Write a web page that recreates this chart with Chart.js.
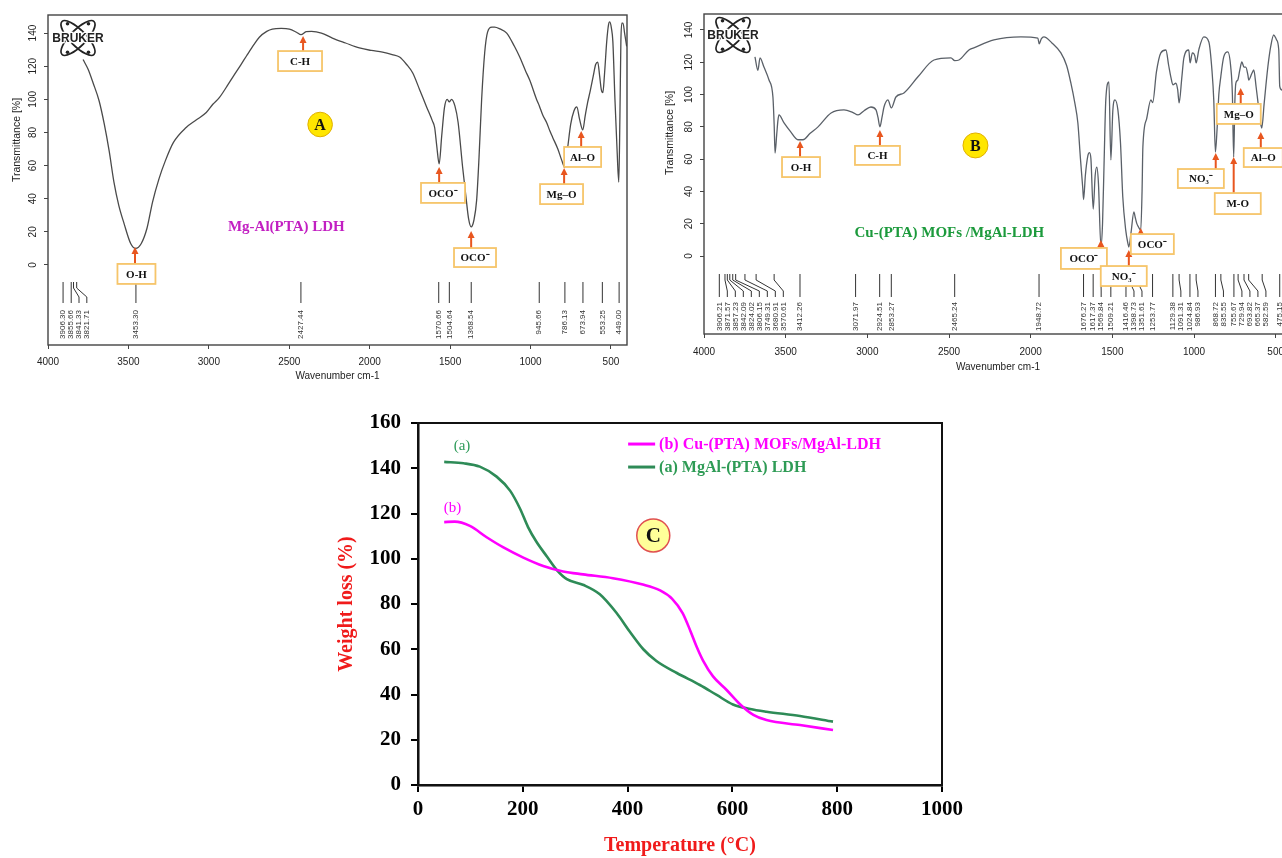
<!DOCTYPE html>
<html><head><meta charset="utf-8">
<script src="https://cdn.jsdelivr.net/npm/chart.js@4.4.1/dist/chart.umd.min.js"></script>
<style>
html,body{margin:0;padding:0;background:#fff;overflow:hidden;width:1282px;height:858px;position:relative;}
canvas{position:absolute;}
</style></head><body>
<canvas id="chartA" width="645" height="385" style="left:0;top:0"></canvas>
<canvas id="chartB" width="645" height="375" style="left:660px;top:0"></canvas>
<canvas id="chartC" width="650" height="463" style="left:330px;top:395px"></canvas>
<script>
// ---------- tick labels ----------
const ftirXTicks = [4000, 3500, 3000, 2500, 2000, 1500, 1000, 500];
const ftirYTicks = [0, 20, 40, 60, 80, 100, 120, 140];
const tgaXTicks = [0, 200, 400, 600, 800, 1000];
const tgaYTicks = [0, 20, 40, 60, 80, 100, 120, 140, 160];

// ---------- (A) Mg-Al(PTA) LDH FTIR ----------
const ldhWavenumber = [3782,3750,3720,3682,3650,3620,3590,3560,3527,3486,3455,3420,3385,3350,3310,3270,3220,3141,3079,3016,2975,2935,2880,2854,2800,2767,2720,2686,2640,2605,2550,2499,2455,2427,2395,2362,2300,2232,2150,2064,1990,1920,1860,1814,1770,1733,1690,1646,1610,1596,1583,1568,1552,1535,1518,1505,1491,1470,1450,1422,1400,1385,1369,1352,1335,1320,1304,1285,1267,1240,1223,1190,1148,1100,1067,1030,1005,961,945,924,900,880,862,830,805,787,770,750,730,712,695,675,660,645,631,610,595,582,570,560,550,540,526,515,507,497,488,475,462,451,444,438,432,425,415,402];
const ldhTransmittance = [124,118,110,99,85,69,50,36,25,13,10,13,22,38,52,63,74,83,87.5,92,97,101,109,113,121,126,133,137.5,141,142.4,142.8,142.4,140.5,139,140.8,141,140,137,134,131,129.5,128.5,127,125.5,121,116,106,95.4,87,83,72,61,78,95,100,98.5,100,96,86,59,40,28,23,27,39,65,99.6,128,140.6,143.6,143.6,142.5,140,132,125.5,117,111.6,99.6,96,90.5,86,81,77,70,63,59,70,85,93,95.4,88,81.5,90,98,104,114,121,122.5,114,106,104,115,135,145,146.7,143,135,100,70,50,90,135,146,146,140,132];
const ldhPeaks = [3906.30,3855.66,3841.33,3821.71,3453.30,2427.44,1570.66,1504.64,1368.54,945.66,786.13,673.94,553.25,449.00];

// ---------- (B) Cu-(PTA) MOFs/MgAl-LDH FTIR ----------
const mofWavenumber = [3688,3670,3657,3633,3602,3578,3570,3565,3555,3547,3541,3510,3470,3425,3394,3350,3302,3222,3143,3090,3057,3020,2978,2947,2935,2923,2910,2898,2874,2853,2825,2776,2690,2592,2488,2465,2439,2378,2348,2225,2060,1956,1948,1935,1919,1870,1815,1780,1754,1730,1711,1695,1681,1676,1665,1650,1640,1631,1617,1605,1595,1585,1570,1560,1550,1540,1521,1509,1497,1484,1466,1450,1436,1418,1405,1399,1385,1368,1360,1351,1340,1326,1318,1313,1290,1264,1253,1230,1203,1172,1155,1142,1129,1111,1100,1091,1075,1062,1032,1024,1010,995,987,970,940,909,890,879,869,858,848,836,818,793,775,765,757,750,744,732,720,707,694,683,670,665,646,634,620,610,595,585,570,548,530,512,495,481,475,463,455,440,420,405];
const mofTransmittance = [123.3,115,122.7,117,109,98.5,80,63.8,75,84.3,87.4,82.4,77,72,72,76,80,88.6,90.5,89,87.4,90,92.3,90.5,86,80,86,92.3,96.7,91.7,98.5,101,111,121.4,122.7,121,121.4,127.6,128.9,133.8,135.7,135,131.4,134.5,135.7,132,125.8,118,107.2,95,82.4,60,42,35,50,62,64,60,29,50,55,45,6,20,60,96.7,107.8,59.5,90,96.7,90.5,70,36.5,16,8,5.6,15,27.3,24,20.4,18,16,40,67.5,85,96.7,95,114,125.8,127.6,118,111,106,107,103,94.8,110,122.7,127.6,119.6,125.8,124,119.6,128,135.7,132.6,115,96.7,64.4,80,100,111,123.3,126.4,117,100,61.3,95,107,109,115,120.2,117,117,112,109,113,115.2,105,96.7,84,79.3,95,117,130,136.9,134,127.6,105,102.8,105,110,115,118];
const mofPeaks = [3906.21,3871.57,3857.23,3842.09,3824.02,3806.15,3749.31,3680.91,3570.61,3412.26,3071.97,2924.51,2853.27,2465.24,1948.72,1676.27,1617.37,1569.84,1509.21,1416.46,1398.73,1351.61,1253.77,1129.38,1091.31,1024.84,986.93,868.72,835.55,755.67,729.94,693.82,665.37,582.59,475.15];

// ---------- (C) TGA ----------
const tgaTempMOF = [50,70,99,131,163,201,239,277,315,372,429,462,485,505,520,532,544,563,589,615,640,665,729,792];
const tgaWeightMOF = [116.2,116.4,114.5,109.5,105,100.5,96.8,94.4,93.1,91.4,88.6,86,82.3,76,68,61,55,48,42,35.6,31,28.7,26.5,24.3];
const tgaTempLDH = [50,87,118,150,176,195,210,226,246,265,284,316,347,379,405,430,455,494,538,570,601,634,665,729,792];
const tgaWeightLDH = [142.8,142.2,140.7,136.3,130,122,114,107.5,101,95,91,88.4,84.3,76,67.5,60,54.8,49.5,44.2,39.8,35.6,33.6,32.4,30.5,28];

// ---------- helpers ----------
const SANS = '"Liberation Sans", Arial, sans-serif';
const SERIF = '"Liberation Serif", "Times New Roman", serif';
const toXY = (xs, ys) => xs.map((x, i) => ({x: x, y: ys[i]}));

const deco = {
  id: 'deco',
  afterDatasetsDraw(chart, args, o) {
    const ctx = chart.ctx, ca = chart.chartArea, sx = chart.scales.x, sy = chart.scales.y;
    ctx.save();
    if (o.peaks) {
      const P = o.peaks;
      const xs = P.values.map(v => sx.getPixelForValue(v));
      const pos = xs.slice();
      for (let i = 1; i < pos.length; i++) pos[i] = Math.max(pos[i], pos[i - 1] + P.gap);
      const b = ca.bottom, y0 = b - P.top, y1 = y0 + P.bend, y3 = b - P.bottom, y2 = y3 - P.bend;
      ctx.strokeStyle = P.color; ctx.lineWidth = 1; ctx.fillStyle = P.color;
      ctx.font = P.font; ctx.textAlign = 'right'; ctx.textBaseline = 'middle';
      xs.forEach((x, i) => {
        ctx.beginPath(); ctx.moveTo(x, y0); ctx.lineTo(x, y1); ctx.lineTo(pos[i], y2); ctx.lineTo(pos[i], y3); ctx.stroke();
        ctx.save(); ctx.translate(pos[i], b - P.label); ctx.rotate(-Math.PI / 2);
        ctx.fillText(P.values[i].toFixed(2), 0, 0); ctx.restore();
      });
    }
    if (o.frame) {
      ctx.strokeStyle = o.frame.color; ctx.lineWidth = o.frame.width;
      ctx.strokeRect(ca.left, ca.top, ca.right - ca.left, ca.bottom - ca.top);
    }
    if (o.logo) {
      const cx = ca.left + o.logo.dx, cy = ca.top + o.logo.dy;
      ctx.save(); ctx.translate(cx, cy);
      ctx.strokeStyle = '#222'; ctx.lineWidth = 1.7;
      [0.8, -0.8].forEach(a => { ctx.beginPath(); ctx.ellipse(0, 0, 23, 8, a, 0, Math.PI * 2); ctx.stroke(); });
      ctx.fillStyle = '#222';
      [[-11,-15],[11,15],[-11,15],[11,-15]].forEach(p => { ctx.beginPath(); ctx.arc(p[0]*0.95, p[1]*0.95, 1.8, 0, Math.PI*2); ctx.fill(); });
      ctx.font = 'bold 12px ' + SANS; ctx.textAlign = 'center'; ctx.textBaseline = 'middle';
      ctx.lineWidth = 2.5; ctx.strokeStyle = '#fff'; ctx.strokeText('BRUKER', 0, 1);
      ctx.fillText('BRUKER', 0, 1);
      ctx.restore();
    }
    (o.boxes || []).forEach(bx => {
      const cx = sx.getPixelForValue(bx.at[0]), cy = sy.getPixelForValue(bx.at[1]);
      const ax = sx.getPixelForValue(bx.tip[0]), ay = sy.getPixelForValue(bx.tip[1]);
      const top = cy - bx.h / 2;
      ctx.strokeStyle = '#E8561F'; ctx.fillStyle = '#E8561F'; ctx.lineWidth = 2;
      ctx.beginPath(); ctx.moveTo(ax, top); ctx.lineTo(ax, ay + 5); ctx.stroke();
      ctx.beginPath(); ctx.moveTo(ax, ay); ctx.lineTo(ax - 3.5, ay + 7); ctx.lineTo(ax + 3.5, ay + 7); ctx.closePath(); ctx.fill();
      ctx.fillStyle = '#fff'; ctx.fillRect(cx - bx.w / 2, top, bx.w, bx.h);
      ctx.strokeStyle = '#F6C56A'; ctx.lineWidth = 1.8; ctx.strokeRect(cx - bx.w / 2, top, bx.w, bx.h);
      ctx.fillStyle = '#111'; ctx.font = 'bold 11px ' + SERIF; ctx.textAlign = 'center'; ctx.textBaseline = 'middle';
      ctx.fillText(bx.text, cx, cy + 1);
    });
    (o.circles || []).forEach(c => {
      const cx = sx.getPixelForValue(c.at[0]), cy = sy.getPixelForValue(c.at[1]);
      ctx.beginPath(); ctx.arc(cx, cy, c.r, 0, Math.PI * 2);
      ctx.fillStyle = c.fill; ctx.fill();
      ctx.strokeStyle = c.stroke; ctx.lineWidth = c.lw; ctx.stroke();
      ctx.fillStyle = '#111'; ctx.font = c.font; ctx.textAlign = 'center'; ctx.textBaseline = 'middle';
      ctx.fillText(c.text, cx, cy + 1);
    });
    (o.texts || []).forEach(t => {
      ctx.fillStyle = t.color; ctx.font = t.font; ctx.textAlign = 'center'; ctx.textBaseline = 'middle';
      ctx.fillText(t.text, sx.getPixelForValue(t.at[0]), sy.getPixelForValue(t.at[1]));
    });
    if (o.legend) {
      const L = o.legend;
      const lx = sx.getPixelForValue(L.at[0]), ly = sy.getPixelForValue(L.at[1]);
      L.order.forEach((di, k) => {
        const ds = chart.data.datasets[di];
        const y = ly + k * L.step;
        ctx.strokeStyle = ds.borderColor; ctx.lineWidth = 3;
        ctx.beginPath(); ctx.moveTo(lx, y); ctx.lineTo(lx + L.len, y); ctx.stroke();
        ctx.fillStyle = L.colors[k]; ctx.font = L.font; ctx.textAlign = 'left'; ctx.textBaseline = 'middle';
        ctx.fillText(ds.label, lx + L.len + 4, y + 1);
      });
    }
    if (o.yTitle) {
      const T = o.yTitle;
      ctx.save(); ctx.translate(T.x, T.y); ctx.rotate(-Math.PI / 2);
      ctx.fillStyle = T.color; ctx.font = T.font; ctx.textAlign = 'center'; ctx.textBaseline = 'middle';
      ctx.fillText(T.text, 0, 0); ctx.restore();
    }
    ctx.restore();
  }
};

function ftirScales(yMin, yMax, yW, xH, xPad, titlePad, yPad) {
  return {
    x: {
      type: 'linear', reverse: true, min: 400, max: 4000,
      afterBuildTicks: s => { s.ticks = ftirXTicks.map(v => ({value: v})); },
      afterFit: s => { s.height = xH; },
      ticks: { callback: v => String(v), font: {family: SANS, size: 10}, color: '#222', padding: xPad, maxRotation: 0, autoSkip: false },
      grid: { drawOnChartArea: false, drawTicks: true, tickLength: 4, color: '#444', lineWidth: 1 },
      border: { display: false },
      title: { display: true, text: 'Wavenumber cm-1', font: {family: SANS, size: 10}, color: '#222', padding: {top: 0, bottom: titlePad} }
    },
    y: {
      type: 'linear', min: yMin, max: yMax,
      afterBuildTicks: s => { s.ticks = ftirYTicks.map(v => ({value: v})); },
      afterFit: s => { s.width = yW; },
      ticks: { callback: v => String(v), font: {family: SANS, size: 10}, color: '#222', padding: yPad, minRotation: 90, maxRotation: 90, crossAlign: 'center', autoSkip: false },
      grid: { drawOnChartArea: false, drawTicks: true, tickLength: 4, color: '#444', lineWidth: 1 },
      border: { display: false }
    }
  };
}

const common = { responsive: false, animation: false, events: [] };

// ---------- Chart A ----------
new Chart(document.getElementById('chartA'), {
  type: 'line',
  data: { datasets: [{ data: toXY(ldhWavenumber, ldhTransmittance), borderColor: '#4a4a4a', borderWidth: 1.3, pointRadius: 0, cubicInterpolationMode: 'monotone', fill: false }] },
  options: Object.assign({}, common, {
    layout: { padding: { left: 0, top: 15, right: 18, bottom: 0 } },
    scales: ftirScales(-48.3, 150.9, 48, 40, 7, 3, 2.5),
    plugins: {
      legend: { display: false }, tooltip: { enabled: false },
      deco: {
        peaks: { values: ldhPeaks, gap: 7.8, top: 63, bend: 6, bottom: 42, label: 35, color: '#333', font: '8px ' + SANS },
        frame: { color: '#444', width: 1.4 },
        logo: { dx: 30, dy: 23 },
        boxes: [
          { text: 'O-H', at: [3450, -5.4], w: 38, h: 20, tip: [3459, 10.9] },
          { text: 'C-H', at: [2433, 123.1], w: 44, h: 20, tip: [2414, 138.2] },
          { text: 'OCO\u207B', at: [1544, 43.5], w: 44, h: 20, tip: [1568, 59.1] },
          { text: 'OCO\u207B', at: [1345, 4.5], w: 42, h: 19, tip: [1369, 20.5] },
          { text: 'Mg\u2013O', at: [807, 42.8], w: 43, h: 20, tip: [791, 58.5] },
          { text: 'Al\u2013O', at: [676, 65.2], w: 37, h: 20, tip: [685, 80.9] }
        ],
        circles: [ { at: [2308, 84.8], r: 12.3, fill: '#FFE600', stroke: '#E0B000', lw: 1, text: 'A', font: 'bold 16px ' + SERIF } ],
        texts: [ { at: [2518, 23], text: 'Mg-Al(PTA) LDH', color: '#C21FC2', font: 'bold 15px ' + SERIF } ],
        yTitle: { text: 'Transmittance [%]', x: 17, y: 140, font: '10.5px ' + SANS, color: '#222' }
      }
    }
  }),
  plugins: [deco]
});

// ---------- Chart B ----------
new Chart(document.getElementById('chartB'), {
  type: 'line',
  data: { datasets: [{ data: toXY(mofWavenumber, mofTransmittance), borderColor: '#5a6068', borderWidth: 1.3, pointRadius: 0, cubicInterpolationMode: 'monotone', fill: false }] },
  options: Object.assign({}, common, {
    layout: { padding: { left: 0, top: 14, right: 13, bottom: 0 } },
    scales: ftirScales(-48.3, 149.9, 44, 41, 8, 2, 2.5),
    plugins: {
      legend: { display: false }, tooltip: { enabled: false },
      deco: {
        peaks: { values: mofPeaks, gap: 8, top: 60, bend: 6, bottom: 37, label: 32, color: '#333', font: '8px ' + SANS },
        frame: { color: '#444', width: 1.4 },
        logo: { dx: 29, dy: 21 },
        boxes: [
          { text: 'O-H', at: [3406, 55.1], w: 38, h: 20, tip: [3412, 71.3] },
          { text: 'C-H', at: [2938, 62.3], w: 45, h: 19, tip: [2923, 78.1] },
          { text: 'OCO\u207B', at: [1674, -1.5], w: 46, h: 21, tip: [1570, 9.9] },
          { text: 'NO\u2083\u207B', at: [1430, -12.4], w: 46, h: 20, tip: [1399, 3.7] },
          { text: 'OCO\u207B', at: [1255, 7.4], w: 43, h: 20, tip: [1326, 17.3] },
          { text: 'NO\u2083\u207B', at: [958, 48], w: 46, h: 19, tip: [867, 63.8] },
          { text: 'M-O', at: [732, 32.5], w: 46, h: 21, tip: [757, 61.3] },
          { text: 'Mg\u2013O', at: [726, 88], w: 44, h: 20, tip: [714, 104.1] },
          { text: 'Al\u2013O', at: [576, 61], w: 39, h: 19, tip: [591, 76.8] }
        ],
        circles: [ { at: [2338, 68.5], r: 12.5, fill: '#FFE600', stroke: '#E0B000', lw: 1, text: 'B', font: 'bold 16px ' + SERIF } ],
        texts: [ { at: [2498, 14.3], text: 'Cu-(PTA) MOFs /MgAl-LDH', color: '#1C9A3C', font: 'bold 15px ' + SERIF } ],
        yTitle: { text: 'Transmittance [%]', x: 10, y: 133, font: '10.5px ' + SANS, color: '#222' }
      }
    }
  }),
  plugins: [deco]
});

// ---------- Chart C ----------
new Chart(document.getElementById('chartC'), {
  type: 'line',
  data: { datasets: [
    { label: '(b) Cu-(PTA) MOFs/MgAl-LDH', data: toXY(tgaTempMOF, tgaWeightMOF), borderColor: '#FF00FF', borderWidth: 2.6, pointRadius: 0, cubicInterpolationMode: 'monotone', fill: false },
    { label: '(a) MgAl-(PTA) LDH', data: toXY(tgaTempLDH, tgaWeightLDH), borderColor: '#2E8B57', borderWidth: 2.6, pointRadius: 0, cubicInterpolationMode: 'monotone', fill: false }
  ] },
  options: Object.assign({}, common, {
    layout: { padding: { left: 0, top: 28, right: 38, bottom: 0 } },
    scales: {
      x: {
        type: 'linear', min: 0, max: 1000,
        afterBuildTicks: s => { s.ticks = tgaXTicks.map(v => ({value: v})); },
        afterFit: s => { s.height = 73; },
        ticks: { callback: v => String(v), font: {family: SERIF, size: 21, weight: 'bold'}, color: '#000', padding: 5, maxRotation: 0, autoSkip: false },
        grid: { drawOnChartArea: false, tickLength: 7, color: '#000', lineWidth: 2 },
        border: { color: '#000', width: 2.5 },
        title: { display: true, text: 'Temperature (\u00B0C)', color: '#F01B1B', font: {family: SERIF, size: 20, weight: 'bold'}, padding: {top: 0, bottom: 0} }
      },
      y: {
        type: 'linear', min: 0, max: 160,
        afterBuildTicks: s => { s.ticks = tgaYTicks.map(v => ({value: v})); },
        afterFit: s => { s.width = 88; },
        ticks: { callback: v => String(v), font: {family: SERIF, size: 21, weight: 'bold'}, color: '#000', padding: 10, autoSkip: false },
        grid: { drawOnChartArea: false, tickLength: 7, color: '#000', lineWidth: 2 },
        border: { color: '#000', width: 2.5 },
        title: { display: true, text: 'Weight loss (%)', color: '#F01B1B', font: {family: SERIF, size: 20, weight: 'bold'}, padding: {top: 5, bottom: 0} }
      }
    },
    plugins: {
      legend: { display: false }, tooltip: { enabled: false },
      deco: {
        frame: { color: '#111', width: 2 },
        circles: [ { at: [449, 110.3], r: 16.5, fill: '#FFFF99', stroke: '#E05050', lw: 1.5, text: 'C', font: 'bold 21px ' + SERIF } ],
        texts: [
          { at: [84, 149.6], text: '(a)', color: '#2E9B5A', font: '15px ' + SERIF },
          { at: [66, 122.2], text: '(b)', color: '#FF00FF', font: '15px ' + SERIF }
        ],
        legend: { at: [401, 150.7], step: 23, len: 27, order: [0, 1], colors: ['#FF00FF', '#2E9B55'], font: 'bold 16px ' + SERIF }
      }
    }
  }),
  plugins: [deco]
});
</script>
</body></html>
